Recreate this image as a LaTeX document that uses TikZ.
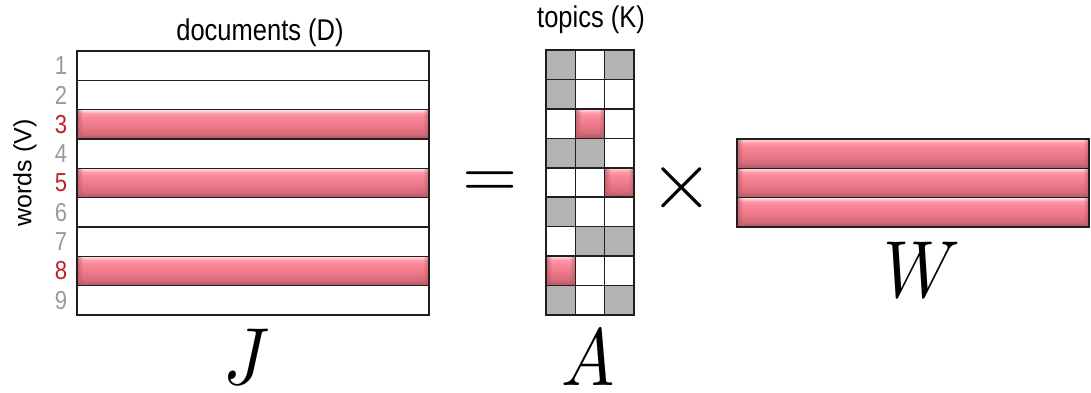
\documentclass[tikz,border=0pt]{standalone}
\usepackage{fontspec}
\setmainfont{Liberation Sans}
\usetikzlibrary{fadings}

% glossy pink fill
\definecolor{pkhi}{HTML}{FFE2E7}
\definecolor{pkpale}{HTML}{FFC3CC}
\definecolor{pklt}{HTML}{FF9CAA}
\definecolor{pkup}{HTML}{F98898}
\definecolor{pkmd}{HTML}{F07A8B}
\definecolor{pkdeep}{HTML}{D96C7B}
\definecolor{pkdk}{HTML}{B55C69}
\definecolor{pkbot}{HTML}{9A4B57}
\definecolor{cellgray}{HTML}{B3B3B3}
\definecolor{numgray}{HTML}{9A9A9A}
\definecolor{numred}{HTML}{C0202A}

\pgfdeclareverticalshading{gloss}{100bp}{%
  color(0bp)=(pkbot); color(25bp)=(pkbot); color(27bp)=(pkdk);
  color(35bp)=(pkdeep); color(50bp)=(pkmd); color(62bp)=(pkup);
  color(69bp)=(pklt); color(72bp)=(pkpale); color(75bp)=(pkhi);
  color(100bp)=(pkhi)}

% one glossy bar from (x1,y1) to (x2,y2), with darker rounded ends
\newcommand\glossbar[4]{%
  \shade[shading=gloss] ({#1},{#2}) rectangle ({#3},{#4});
  \fill[pkdk,path fading=east,fill opacity=0.75] ({#1},{#2}) rectangle ({#1+6},{#4});
  \fill[pkdk,path fading=west,fill opacity=0.75] ({#3-6},{#2}) rectangle ({#3},{#4});
}

\tikzset{
  gridline/.style={line width=1.5pt,draw=black!88},
  toplabel/.style={font=\fontsize{30}{36}\selectfont,inner sep=0pt},
  rownum/.style={font=\fontsize{26}{30}\selectfont,inner sep=0pt},
  mathlbl/.style={inner sep=0pt,anchor=base},
}

\begin{document}
\begin{tikzpicture}[x=1pt,y=-1pt]
\useasboundingbox (0,0) rectangle (1091,392);

% ---------- J : words x documents ----------
\def\rh{29.333}
\foreach \r in {3,5,8}{
  \glossbar{77}{51+(\r-1)*\rh}{429}{51+\r*\rh}
}
\draw[gridline] (77,51) rectangle (429,315);
\foreach \r in {1,...,8}{
  \draw[gridline] (77,{51+\r*\rh}) -- (429,{51+\r*\rh});
}
\foreach \r/\c in {1/numgray,2/numgray,3/numred,4/numgray,5/numred,6/numgray,7/numgray,8/numred,9/numgray}{
  \node[rownum,text=\c] (n\r) at (61,{51+(\r-0.5)*\rh}) {\scalebox{0.85}[1]{\r}};
}
\node[toplabel] (docs) at (260,33) {\scalebox{0.85}[1]{documents (D)}};
\node[font=\fontsize{25}{30}\selectfont,inner sep=0pt,rotate=90] (words) at (25,173) {words (V)};
\node[mathlbl] (Jlbl) at (247,384) {\scalebox{7.1}[8.1]{$J$}};

% ---------- = ----------
\node[inner sep=0pt] (eq) at (490,185) {\scalebox{7.1}[7]{$=$}};

% ---------- A : words x topics ----------
\def\ah{29.444}
\def\aw{29.333}
% gray cells (row/col)
\foreach \r/\c in {1/1,1/3,2/1,4/1,4/2,6/1,7/2,7/3,9/1,9/3}{
  \fill[cellgray] ({546+(\c-1)*\aw},{50+(\r-1)*\ah}) rectangle ({546+\c*\aw},{50+\r*\ah});
}
% pink cells
\foreach \r/\c in {3/2,5/3,8/1}{
  \glossbar{546+(\c-1)*\aw}{50+(\r-1)*\ah}{546+\c*\aw}{50+\r*\ah}
}
\draw[gridline] (546,50) rectangle (634,315);
\foreach \r in {1,...,8}{
  \draw[gridline] (546,{50+\r*\ah}) -- (634,{50+\r*\ah});
}
\foreach \c in {1,2}{
  \draw[gridline] ({546+\c*\aw},50) -- ({546+\c*\aw},315);
}
\node[toplabel] (topics) at (591,20) {\scalebox{0.85}[1]{topics (K)}};
\node[mathlbl] (Albl) at (588,385) {\scalebox{7.1}[8.1]{$A$}};

% ---------- x ----------
\node[inner sep=0pt] (times) at (682,188) {\scalebox{8.3}{$\times$}};

% ---------- W : topics x documents ----------
\foreach \r in {1,2,3}{
  \glossbar{737}{139+(\r-1)*\rh}{1089}{139+\r*\rh}
}
\draw[gridline] (737,139) rectangle (1089,227);
\foreach \r in {1,2}{
  \draw[gridline] (737,{139+\r*\rh}) -- (1089,{139+\r*\rh});
}
\node[mathlbl] (Wlbl) at (922,297) {\scalebox{7.1}[8.1]{$W$}};
\end{tikzpicture}
\end{document}
